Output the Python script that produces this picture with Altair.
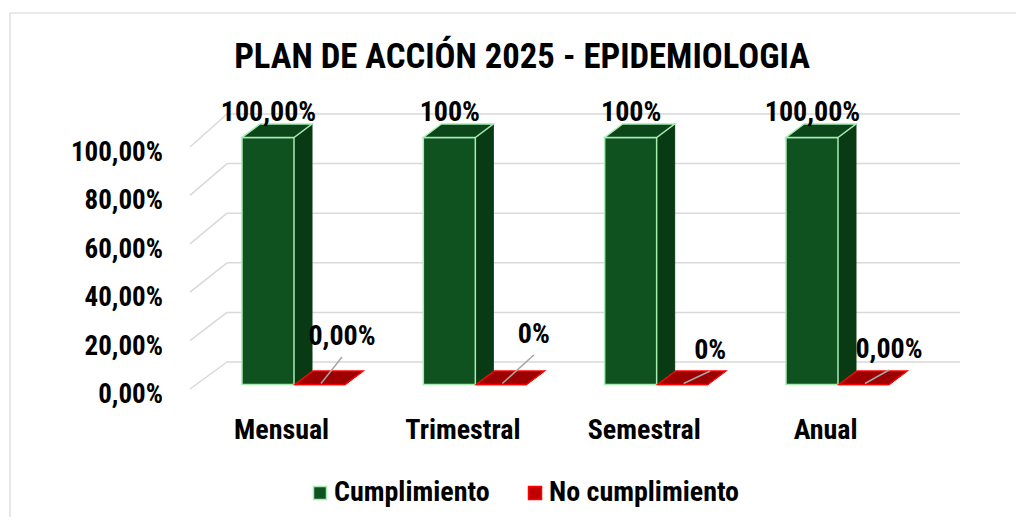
import altair as alt
import pandas as pd

# ---------------- data ----------------
categorias = ["Mensual", "Trimestral", "Semestral", "Anual"]
cumplimiento = [100.0, 100.0, 100.0, 100.0]
no_cumplimiento = [0.0, 0.0, 0.0, 0.0]
etiquetas_cumpl = ["100,00%", "100%", "100%", "100,00%"]
etiquetas_no = ["0,00%", "0%", "0%", "0,00%"]
series = ["Cumplimiento", "No cumplimiento"]
ticks_y = [0, 20, 40, 60, 80, 100]
titulo = "PLAN DE ACCIÓN 2025 - EPIDEMIOLOGIA"

# ---------------- style / layout ----------------
FONT = "Liberation Sans Narrow, Arial Narrow, Roboto Condensed, sans-serif"
GREEN, GREEN_SIDE, GREEN_TOP, GREEN_EDGE = "#0f5220", "#083a14", "#0b4519", "#a8ecb2"
RED, RED_TOP, RED_EDGE = "#c00000", "#9c0000", "#ff0000"
GRID = "#d9d9d9"
LEADER = "#a6a6a6"

MARGIN, PAD_TOP = 8, 70
W, H = 1008, 439
Y0, K = 389.0, 2.42           # front plane: 0 % at page y 389, px per percent


def vx(px):
    return px - MARGIN


def vy(py):
    return (Y0 - py) / K


L0, STEP = 242.0, 181.33      # left edge of first green bar, category spacing
GW, RGAP, RW = 52.0, 53.0, 50.0
DX, DY = 18.0, 13.5           # 3-D depth of a bar
BASE, KB = 384.5, 2.47        # bar baseline page y, px per percent on bars
NO_DX = [47.0, 57.5, 52.5, 50.0]
NO_DY = [-47.5, -49.5, -33.5, -34.5]

xs = alt.Scale(domain=[0, W], nice=False, zero=False)
ys = alt.Scale(domain=[vy(MARGIN + PAD_TOP + H), vy(MARGIN + PAD_TOP)], nice=False, zero=False)

front, side, top, lab_g, lab_r, leaders, cats = [], [], [], [], [], [], []
for i, cat in enumerate(categorias):
    L = L0 + STEP * i
    R = L + RGAP
    for serie, left, width, v in ((series[0], L, GW, cumplimiento[i]), (series[1], R, RW, no_cumplimiento[i])):
        ytop = BASE - KB * v
        key = f"{cat}-{serie}"
        front.append(dict(serie=serie, x=vx(left), x2=vx(left + width), y=vy(ytop), y2=vy(BASE)))
        side.append(dict(key=key, serie=serie, x=vx(left + width), y=vy(ytop), y2=vy(BASE)))
        side.append(dict(key=key, serie=serie, x=vx(left + width + DX), y=vy(ytop - DY), y2=vy(BASE - DY)))
        top.append(dict(key=key, serie=serie, y=vy(ytop), x=vx(left), x2=vx(left + width)))
        top.append(dict(key=key, serie=serie, y=vy(ytop - DY), x=vx(left + DX), x2=vx(left + width + DX)))
    lab_g.append(dict(t=etiquetas_cumpl[i], x=vx(L + 26.5), y=vy(BASE - KB * cumplimiento[i] - 25)))
    ly = BASE - KB * no_cumplimiento[i] + NO_DY[i]
    lab_r.append(dict(t=etiquetas_no[i], x=vx(R + NO_DX[i]), y=vy(ly)))
    leaders.append(dict(x=vx(R + NO_DX[i]), y=vy(ly + 20), x2=vx(R + 26), y2=vy(BASE - 1)))
    cats.append(dict(t=cat, x=vx(L + 39.6), y=vy(431)))

grid = pd.DataFrame([dict(xf=vx(190), yf=float(v), xb=vx(227), yb=vy(362 - 2.48 * v), xe=vx(960)) for v in ticks_y])
ylab = pd.DataFrame([dict(t=f"{v:.2f}".replace(".", ",") + "%", x=vx(163), y=v - 6.0 / K) for v in ticks_y])
front, side, top = pd.DataFrame(front), pd.DataFrame(side), pd.DataFrame(top)

X = lambda f: alt.X(f, type="quantitative", scale=xs, axis=None)
Y = lambda f: alt.Y(f, type="quantitative", scale=ys, axis=None)

one = pd.DataFrame({"a": [0]})
border = alt.Chart(one).mark_rect(fill="transparent", stroke="#d6d6d6", strokeWidth=1.2).encode(
    x=alt.value(vx(10)), x2=alt.value(vx(1040)), y=alt.value(13 - MARGIN - PAD_TOP), y2=alt.value(540)
)
title_t = alt.Chart(pd.DataFrame({"t": [titulo]})).mark_text(
    font=FONT, fontSize=34.7, fontWeight="bold", color="black", align="center", baseline="middle"
).encode(x=alt.value(vx(522)), y=alt.value(57.5 - MARGIN - PAD_TOP), text="t:N")

grid_diag = alt.Chart(grid).mark_rule(color=GRID, strokeWidth=1.5).encode(
    x=X("xf"), y=Y("yf"), x2="xb:Q", y2="yb:Q")
grid_h = alt.Chart(grid).mark_rule(color=GRID, strokeWidth=1.5).encode(
    x=X("xb"), x2="xe:Q", y=Y("yb"))

leg = alt.Legend(orient="none", legendX=298, legendY=401, direction="horizontal", title=None,
                 symbolType="square", symbolSize=169, symbolStrokeWidth=1.5,
                 labelFont=FONT, labelFontSize=28, labelFontWeight="bold", labelColor="black",
                 labelOffset=0, columnPadding=31, labelLimit=400)

layers = [border, title_t, grid_diag, grid_h]
for serie, sc, tc, ec in ((series[0], GREEN_SIDE, GREEN_TOP, GREEN_EDGE), (series[1], RED_TOP, RED_TOP, RED_EDGE)):
    fr = alt.Chart(front[front.serie == serie]).mark_rect(strokeWidth=1.5).encode(
        x=X("x"), x2="x2:Q", y=Y("y"), y2="y2:Q",
        fill=alt.Fill("serie:N", scale=alt.Scale(domain=series, range=[GREEN, RED]), legend=leg),
        stroke=alt.Stroke("serie:N", scale=alt.Scale(domain=series, range=[GREEN_EDGE, RED_EDGE]), legend=leg),
    )
    sd = alt.Chart(side[side.serie == serie]).mark_area(orient="vertical", fill=sc, stroke=sc, strokeWidth=1).encode(
        x=X("x"), y=alt.Y("y:Q", scale=ys, axis=None, stack=None), y2="y2:Q", detail="key:N")
    tp = alt.Chart(top[top.serie == serie]).mark_area(orient="horizontal", fill=tc, stroke=ec, strokeWidth=1.5).encode(
        y=Y("y"), x=alt.X("x:Q", scale=xs, axis=None, stack=None), x2="x2:Q", detail="key:N")
    layers += [sd, fr, tp]

lead = alt.Chart(pd.DataFrame(leaders)).mark_rule(color=LEADER, strokeWidth=1.5).encode(
    x=X("x"), y=Y("y"), x2="x2:Q", y2="y2:Q")

txt = dict(font=FONT, fontWeight="bold", color="black", baseline="middle")
t_y = alt.Chart(ylab).mark_text(align="right", fontSize=27, **txt).encode(x=X("x"), y=Y("y"), text="t:N")
t_c = alt.Chart(pd.DataFrame(cats)).mark_text(align="center", fontSize=28, **txt).encode(x=X("x"), y=Y("y"), text="t:N")
t_g = alt.Chart(pd.DataFrame(lab_g)).mark_text(align="center", fontSize=28, **txt).encode(x=X("x"), y=Y("y"), text="t:N")
t_r = alt.Chart(pd.DataFrame(lab_r)).mark_text(align="center", fontSize=28, **txt).encode(x=X("x"), y=Y("y"), text="t:N")

layers += [lead, t_y, t_c, t_g, t_r]

chart = alt.layer(*layers).properties(
    width=W, height=H,
    padding={"left": 0, "right": 0, "top": PAD_TOP, "bottom": 0},
    autosize=alt.AutoSizeParams(type="none"),
).configure(
    background="white",
    view=alt.ViewConfig(strokeWidth=0, strokeOpacity=0),
)

chart.save("out.html", embed_options={"renderer": "svg", "actions": False})
